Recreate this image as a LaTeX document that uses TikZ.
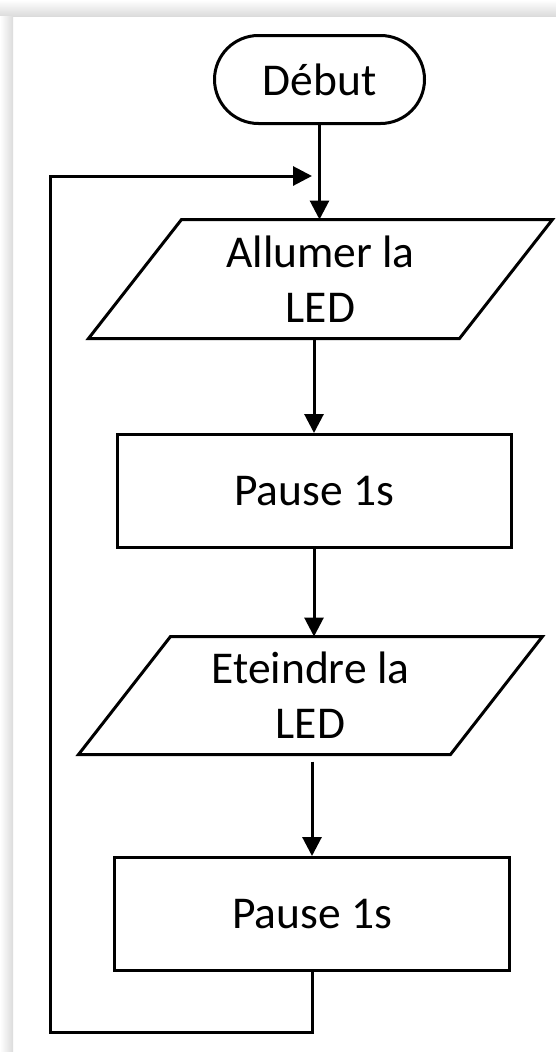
\documentclass[tikz,border=0pt]{standalone}
\usepackage{fontspec}
\setmainfont{Carlito}
\usetikzlibrary{shapes.misc,arrows.meta,calc}
\begin{document}
\begin{tikzpicture}[x=1pt,y=-1pt,
  line width=3pt,
  every node/.style={font=\fontsize{45.5}{55}\selectfont, align=center, inner sep=0pt},
  term/.style={rounded rectangle, draw, minimum width=210pt, minimum height=88pt},
  proc/.style={rectangle, draw, minimum width=394pt, minimum height=113pt},
  iobox/.style={rectangle, minimum width=368pt, minimum height=116pt},
  flow/.style={-{Triangle[length=19pt,width=19pt]}}]
\useasboundingbox (0,0) rectangle (556,1052);
\fill[white] (0,0) rectangle (556,1052);
\shade[top color=white, bottom color=gray!28, draw=none] (0,0) rectangle (556,16);
\shade[left color=white, right color=gray!28, draw=none] (0,16) rectangle (13,1052);

\node[term] (debut) at (319.5,79.5) {Début};
\node[iobox] (allumer) at (320.5,279) {Allumer la\\LED};
\draw ($(allumer.north west)+(46.5,0)$) -- ($(allumer.north east)+(46.5,0)$)
  -- ($(allumer.south east)+(-46.5,0)$) -- ($(allumer.south west)+(-46.5,0)$) -- cycle;
\node[proc] (p1) at (314,491) {Pause 1s};
\node[iobox, minimum width=369pt, minimum height=115pt] (eteindre) at (310.5,695.5) {Eteindre la\\LED};
\draw ($(eteindre.north west)+(46,0)$) -- ($(eteindre.north east)+(46,0)$)
  -- ($(eteindre.south east)+(-46,0)$) -- ($(eteindre.south west)+(-46,0)$) -- cycle;
\node[proc, minimum width=395pt] (p2) at (312,914) {Pause 1s};

\coordinate (lb) at (50,1032);
\coordinate (lt) at (50,176);
\coordinate (mg) at (312,176);

\draw[flow] (debut.south) -- (debut.south |- allumer.north);
\draw[flow] (p1.north |- allumer.south) -- (p1.north);
\draw[flow] (p1.south) -- (p1.south |- eteindre.north);
\draw[flow, shorten <=7pt] (p2.north |- eteindre.south) -- (p2.north);
\draw[flow] (p2.south) |- (lb) -- (lt) -- (mg);
\end{tikzpicture}
\end{document}
